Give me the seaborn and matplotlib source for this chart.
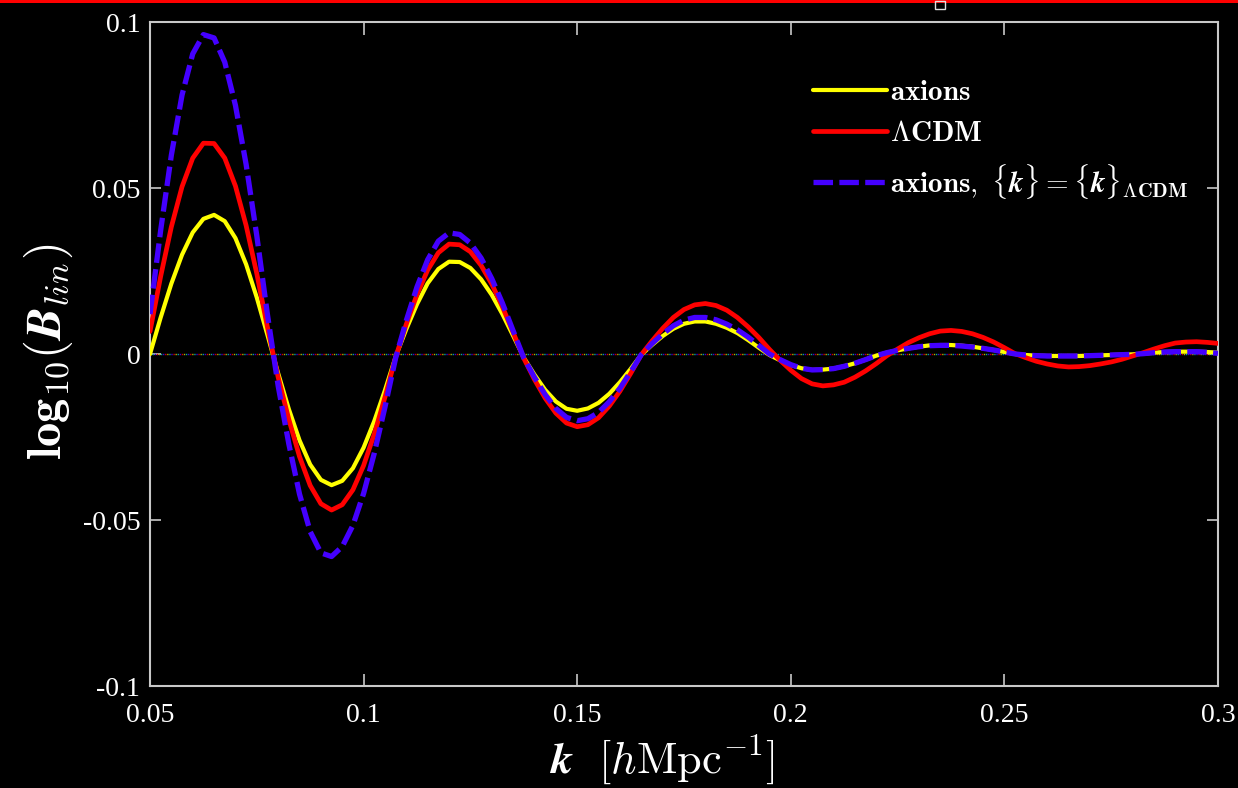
import numpy as np
import pandas as pd
import seaborn as sns
import matplotlib
matplotlib.use("Agg")
import matplotlib.pyplot as plt
from matplotlib.patches import Rectangle

# Wavenumber samples [h/Mpc]
k = np.linspace(0.05, 0.30, 101)

# log10 of the linear BAO wiggle component, per model
b_axions = [
    0.0000, 0.0110, 0.0212, 0.0299, 0.0366, 0.0407, 0.0419, 0.0400, 0.0349, 0.0270, 0.0170, 0.0057,
    -0.0058, -0.0166, -0.0260, -0.0333, -0.0379, -0.0395, -0.0382, -0.0344, -0.0282, -0.0202, -0.0109, -0.0008,
    0.0075, 0.0150, 0.0213, 0.0256, 0.0278, 0.0277, 0.0259, 0.0225, 0.0178, 0.0120, 0.0055,
    -0.0011, -0.0062, -0.0108, -0.0143, -0.0165, -0.0171, -0.0164, -0.0147, -0.0120, -0.0085, -0.0045, -0.0002,
    0.0027, 0.0054, 0.0076, 0.0091, 0.0098, 0.0098, 0.0091, 0.0079, 0.0063, 0.0042, 0.0019,
    -0.0003, -0.0019, -0.0033, -0.0043, -0.0048, -0.0047, -0.0044, -0.0037, -0.0028, -0.0017, -0.0005,
    0.0004, 0.0011, 0.0017, 0.0022, 0.0026, 0.0027, 0.0027, 0.0025, 0.0022, 0.0017, 0.0012, 0.0006,
    0.0000, -0.0003, -0.0005, -0.0006, -0.0006, -0.0006, -0.0006, -0.0005, -0.0004, -0.0003, -0.0002, -0.0001,
    0.0001, 0.0004, 0.0006, 0.0007, 0.0007, 0.0007, 0.0006, 0.0004,
]
b_lcdm = [
    0.0068, 0.0234, 0.0383, 0.0504, 0.0590, 0.0635, 0.0634, 0.0590, 0.0506, 0.0387, 0.0242, 0.0080,
    -0.0070, -0.0197, -0.0309, -0.0396, -0.0451, -0.0470, -0.0454, -0.0409, -0.0336, -0.0241, -0.0130, -0.0010,
    0.0090, 0.0179, 0.0253, 0.0305, 0.0331, 0.0329, 0.0308, 0.0267, 0.0211, 0.0142, 0.0065,
    -0.0013, -0.0077, -0.0133, -0.0178, -0.0208, -0.0219, -0.0213, -0.0192, -0.0157, -0.0112, -0.0059, -0.0002,
    0.0039, 0.0077, 0.0110, 0.0134, 0.0148, 0.0152, 0.0146, 0.0132, 0.0110, 0.0082, 0.0050, 0.0014,
    -0.0019, -0.0049, -0.0074, -0.0090, -0.0096, -0.0093, -0.0085, -0.0070, -0.0051, -0.0029, -0.0005,
    0.0015, 0.0034, 0.0049, 0.0061, 0.0069, 0.0071, 0.0068, 0.0061, 0.0050, 0.0036, 0.0019, 0.0001,
    -0.0011, -0.0022, -0.0030, -0.0036, -0.0039, -0.0038, -0.0035, -0.0030, -0.0024, -0.0016, -0.0006,
    0.0004, 0.0015, 0.0025, 0.0033, 0.0036, 0.0037, 0.0035, 0.0032,
]
b_axions_klcdm = [
    0.0120, 0.0373, 0.0599, 0.0780, 0.0904, 0.0962, 0.0952, 0.0879, 0.0749, 0.0571, 0.0356, 0.0118,
    -0.0096, -0.0271, -0.0422, -0.0535, -0.0599, -0.0610, -0.0580, -0.0516, -0.0420, -0.0299, -0.0160, -0.0012,
    0.0101, 0.0202, 0.0284, 0.0340, 0.0365, 0.0360, 0.0334, 0.0289, 0.0227, 0.0153, 0.0070,
    -0.0012, -0.0070, -0.0122, -0.0164, -0.0191, -0.0201, -0.0195, -0.0176, -0.0144, -0.0103, -0.0054, -0.0002,
    0.0031, 0.0060, 0.0085, 0.0102, 0.0110, 0.0110, 0.0103, 0.0090, 0.0073, 0.0051, 0.0026, 0.0000,
    -0.0017, -0.0032, -0.0043, -0.0048, -0.0047, -0.0044, -0.0037, -0.0028, -0.0017, -0.0005,
    0.0004, 0.0011, 0.0017, 0.0022, 0.0025, 0.0026, 0.0026, 0.0024, 0.0021, 0.0017, 0.0012, 0.0006, 0.0000,
    -0.0003, -0.0005, -0.0006, -0.0006, -0.0006, -0.0006, -0.0005, -0.0004, -0.0003, -0.0002, -0.0001,
    0.0001, 0.0004, 0.0006, 0.0007, 0.0007, 0.0007, 0.0005, 0.0002,
]

series_labels = [
    r'$\mathbf{axions}$',
    r'$\mathbf{\Lambda CDM}$',
    r'$\mathbf{axions,}\ \{\boldsymbol{k}\} = \{\boldsymbol{k}\}_{\mathbf{\Lambda CDM}}$',
]
x_ticks = [0.05, 0.10, 0.15, 0.20, 0.25, 0.30]
x_tick_labels = ['0.05', '0.1', '0.15', '0.2', '0.25', '0.3']
y_ticks = [-0.10, -0.05, 0.0, 0.05, 0.10]
y_tick_labels = ['-0.1', '-0.05', '0', '0.05', '0.1']

sns.set_style('ticks')
plt.rcParams['font.family'] = ['Liberation Serif', 'DejaVu Serif']
plt.rcParams['mathtext.fontset'] = 'cm'

W, H = 1238, 788
fig = plt.figure(figsize=(W / 100, H / 100), dpi=100, facecolor='black')
ax = fig.add_axes([150 / W, 1 - 686 / H, 1068 / W, 664 / H])
ax.set_facecolor('black')

df = pd.DataFrame({
    'k': np.tile(k, 3),
    'B': np.concatenate([b_axions, b_lcdm, b_axions_klcdm]),
    'model': np.repeat(['axions', 'lcdm', 'axions_klcdm'], len(k)),
})

# dotted zero reference, one dotted trace per colour
for i, c in enumerate(['#b0b000', '#d00000', '#3a00d0', '#00a0a0']):
    ax.axhline(0, color=c, lw=1.0, ls=(i * 1.5, (1.0, 5.0)), zorder=1)

styles = {
    'axions': dict(color='#ffff00', lw=3.0, ls='-', solid_joinstyle='round'),
    'lcdm': dict(color='#ff0000', lw=3.4, ls='-', solid_joinstyle='round'),
    'axions_klcdm': dict(color='#4400ff', lw=3.8, ls=(0, (3.7, 1.2)), dash_joinstyle='round'),
}
for name in ['axions', 'lcdm', 'axions_klcdm']:
    sub = df[df['model'] == name]
    sns.lineplot(data=sub, x='k', y='B', ax=ax, legend=False, zorder=3, **styles[name])

ax.set_xlim(0.05, 0.30)
ax.set_ylim(-0.10, 0.10)
ax.set_xticks(x_ticks)
ax.set_xticklabels(x_tick_labels)
ax.set_yticks(y_ticks)
ax.set_yticklabels(y_tick_labels)

spine_c = '#c8c8c8'
for s in ax.spines.values():
    s.set_color(spine_c)
    s.set_linewidth(1.5)
ax.tick_params(axis='both', direction='in', colors=spine_c, labelcolor='white',
               labelsize=20, width=1.2, top=True, right=True)
ax.tick_params(axis='x', length=9, pad=12)
ax.tick_params(axis='y', length=8, pad=7)

ax.set_xlabel(r'$\boldsymbol{k}\ \ [h\mathrm{Mpc}^{-1}]$', color='white', fontsize=32,
              va='center', ha='center')
ax.xaxis.set_label_coords((662 - 150) / 1068, (686 - 760) / 664)
ax.set_ylabel(r'$\mathbf{log}_{\mathbf{10}}(\boldsymbol{B}_{lin})$', color='white', fontsize=35,
              va='center', ha='center', rotation=90)
ax.yaxis.set_label_coords((48 - 150) / 1068, (686 - 352) / 664)

handles = ax.get_lines()[-3:]
leg = ax.legend(handles, series_labels, loc='upper left', frameon=False, fontsize=21,
                labelcolor='white', handlelength=2.55, handletextpad=0.1, labelspacing=0.5,
                borderpad=0, borderaxespad=0,
                bbox_to_anchor=(813 / W, 1 - 80 / H), bbox_transform=fig.transFigure)

# thin red band along the top edge and a small outlined box
fig.add_artist(Rectangle((0, 1 - 2.5 / H), 1, 2.5 / H, transform=fig.transFigure,
                         color='#ff0000', lw=0))
fig.add_artist(Rectangle((935 / W, 1 - 9 / H), 10 / W, 8 / H, transform=fig.transFigure,
                         fill=False, edgecolor='#e0e0e0', lw=1))

fig.savefig('out.png', dpi=100, facecolor='black')
